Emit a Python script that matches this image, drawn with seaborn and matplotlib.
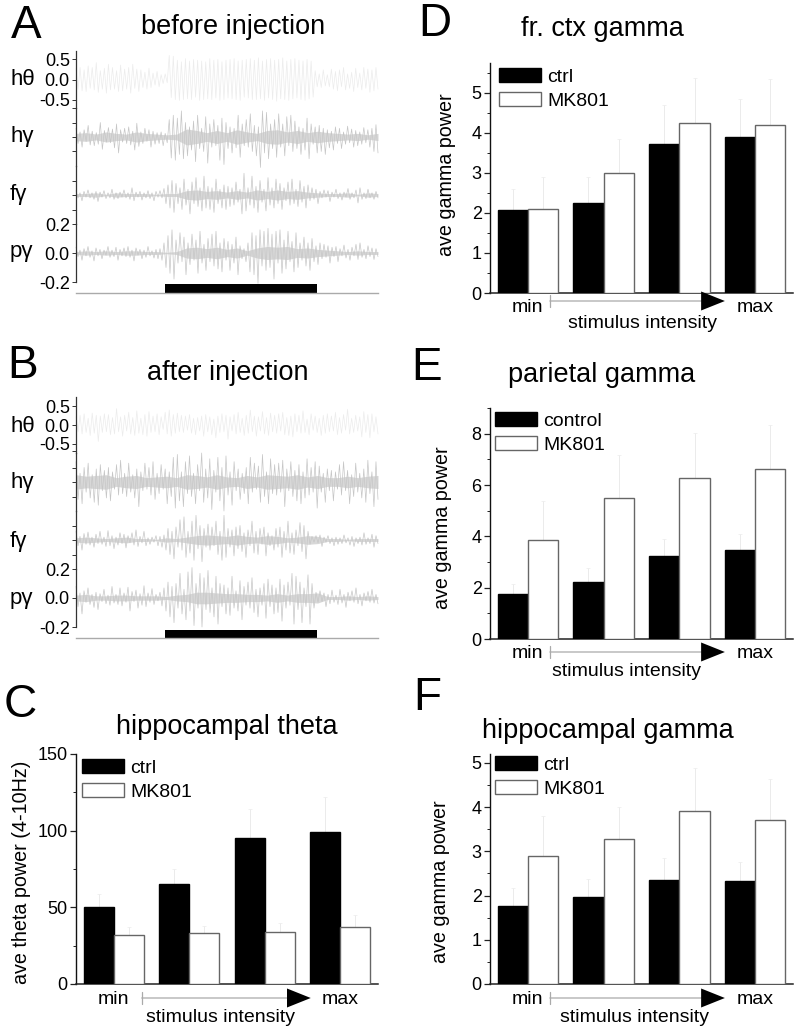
import numpy as np
import pandas as pd
import matplotlib
matplotlib.use("Agg")
import matplotlib.pyplot as plt
import seaborn as sns
from matplotlib.ticker import MultipleLocator

sns.set_theme(style="ticks")
plt.rcParams['font.family'] = ['Liberation Sans', 'DejaVu Sans']
plt.rcParams['axes.unicode_minus'] = False

W, H = 800, 1035

# bar values
groups = ["1", "2", "3", "4"]
theta_ctrl = [50, 65.5, 95.5, 99]
theta_mk = [32, 33, 34, 37.5]
theta_ctrl_top = [59, 75, 114, 122]
theta_mk_top = [37, 38, 39.5, 45]
fr_ctrl = [2.06, 2.25, 3.72, 3.89]
fr_mk = [2.09, 3.0, 4.25, 4.19]
fr_ctrl_top = [2.6, 2.9, 4.7, 4.85]
fr_mk_top = [2.9, 3.85, 5.37, 5.35]
par_ctrl = [1.77, 2.23, 3.22, 3.47]
par_mk = [3.85, 5.5, 6.28, 6.62]
par_ctrl_top = [2.13, 2.75, 3.9, 4.1]
par_mk_top = [5.38, 7.15, 8.03, 8.33]
hip_ctrl = [1.76, 1.97, 2.36, 2.34]
hip_mk = [2.9, 3.27, 3.91, 3.71]
hip_ctrl_top = [2.17, 2.38, 2.85, 2.75]
hip_mk_top = [3.8, 4.0, 4.88, 4.63]

# traces read off the picture as peaks and troughs
# theta traces are in 0.01 units, gamma traces in 0.005 units
a_theta = [28,-25,30,-28,24,-30,34,-22,30,-26,42,-32,22,-24,28,-34,38,-26,30,-24,22,-30,36,-28,26,
           -24,30,-34,38,-22,26,-30,24,-20,18,-24,28,-20,16,-14,20,-18,12,-10,14,-8,60,-45,58,-50,
           48,-52,44,-50,52,-48,46,-50,50,-44,48,-52,46,-50,44,-48,52,-50,48,-46,50,-52,44,-50,48,
           -46,50,-48,52,-50,46,-52,48,-44,50,-46,52,-50,48,-50,54,-48,46,-52,50,-46,52,-50,48,-54,
           50,-48,54,-50,46,-52,50,-48,52,-46,48,-50,46,-52,50,-48,46,-44,22,-18,14,-20,24,-16,12,
           -18,26,-24,20,-28,24,-18,30,-26,14,-22,18,-30,28,-20,16,-26,30,-22,26,-32,24,-28,30,-24]
a_hgam = [12,-9,7,-14,10,-6,16,-11,8,-12,6,-10,20,-17,9,-7,13,-8,11,-15,18,-22,10,-7,12,
          -9,14,-11,8,-18,19,-13,7,-9,12,-6,10,-14,8,-10,6,-9,7,-12,5,-8,24,-29,30,-32,
          26,-24,36,-30,20,-26,14,-18,22,-34,30,-16,12,-20,28,-36,18,-14,24,-12,16,-32,26,-38,
          20,-16,14,-22,12,-15,30,-28,18,-12,24,-14,32,-20,16,-26,14,-42,36,-22,34,-30,18,-16,24,
          -28,32,-14,18,-26,28,-12,30,-20,22,-16,14,-24,12,-18,26,-30,18,-10,14,-22,16,-20,12,-24,
          10,-15,8,-18,14,-9,12,-16,7,-10,15,-8,11,-14,9,-12,7,-10,13,-8,10,-14,12,-20,17,-22]
a_fgam = [6,-4,3,-8,5,-3,7,-4,3,-6,5,-9,4,-3,6,-5,3,-4,8,-6,3,-5,4,-3,7,
          -4,3,-6,10,-8,4,-3,5,-7,3,-4,6,-5,3,-8,5,-3,6,-4,9,-12,14,-18,20,-24,
          16,-12,10,-20,22,-14,8,-26,18,-12,24,-16,10,-22,26,-18,12,-20,10,-24,22,-12,8,-18,14,
          -20,12,-16,10,-14,18,-10,8,-26,30,-22,10,-14,26,-18,12,-24,20,-10,8,-22,24,-14,10,-18,22,
          -12,16,-20,10,-8,18,-14,22,-12,8,-16,20,-10,12,-18,14,-8,10,-6,8,-12,5,-4,7,-3,
          6,-9,4,-3,8,-5,3,-7,4,-3,9,-6,3,-4,7,-11,10,-6,3,-5,8,-4,3,-6,5,-4]
a_pgam = [8,-5,4,-10,6,-4,9,-6,3,-11,7,-4,5,-8,4,-3,9,-6,4,-5,8,-10,5,-4,7,
          -5,9,-6,4,-11,7,-3,5,-8,4,-6,9,-4,3,-7,5,-8,6,-10,14,-20,24,-28,32,-36,
          18,-14,28,-12,22,-30,14,-16,26,-10,18,-28,30,-14,12,-24,20,-12,26,-18,30,-22,14,-26,20,
          -10,16,-24,12,-14,22,-30,10,-8,6,-12,14,-26,28,-30,24,-42,32,-18,30,-24,34,-20,26,-36,30,
          -14,32,-28,18,-22,30,-12,16,-26,28,-20,14,-10,22,-18,14,-24,20,-12,10,-16,14,-8,12,-6,
          10,-14,8,-5,9,-12,6,-4,11,-7,5,-10,8,-4,12,-9,14,-6,5,-8,10,-5,7,-9,6,-5]
b_theta = [22,-18,26,-24,30,-20,18,-28,32,-22,26,-44,24,-20,30,-18,28,-26,20,-24,44,-18,22,-30,26,
           -16,34,-24,20,-28,38,-22,18,-26,28,-30,36,-20,24,-18,30,-26,22,-12,34,-24,40,-30,28,-22,
           32,-18,26,-20,24,-14,28,-22,18,-26,20,-16,24,-30,28,-18,22,-26,16,-34,24,-20,30,-18,26,
           -38,22,-16,28,-24,34,-20,18,-28,26,-22,40,-18,24,-30,22,-16,36,-24,20,-28,32,-18,26,-22,
           30,-16,34,-26,20,-28,24,-32,30,-18,26,-22,38,-20,16,-26,30,-14,24,-20,18,-28,26,-22,30,
           -18,24,-16,34,-26,20,-22,28,-14,42,-24,18,-20,26,-16,22,-32,36,-20,28,-34,30,-18,22,-24]
b_hgam = [28,-24,12,-30,20,-14,26,-22,10,-28,18,-32,24,-12,16,-22,20,-26,14,-10,24,-18,30,-16,12,
          -20,26,-14,10,-22,18,-34,14,-12,26,-10,20,-18,28,-24,12,-16,24,-10,18,-30,14,-20,34,-36,
          38,-26,14,-34,28,-16,36,-20,12,-30,24,-12,40,-28,18,-22,32,-38,16,-14,34,-26,20,-40,36,
          -18,14,-32,28,-12,18,-24,12,-16,20,-30,34,-14,26,-10,22,-28,38,-20,14,-30,32,-16,24,-18,
          26,-14,30,-34,18,-12,28,-20,16,-26,24,-30,14,-22,32,-18,20,-14,28,-36,22,-14,12,-28,18,
          -12,16,-26,14,-10,24,-18,28,-12,16,-30,10,-20,26,-14,12,-22,18,-28,30,-16,14,-34,28,-24]
b_fgam = [12,-8,5,-14,9,-6,11,-7,4,-10,8,-5,12,-6,4,-9,13,-8,6,-12,4,-7,10,-5,8,
          -11,6,-4,10,-7,14,-9,5,-4,12,-8,3,-6,4,-3,6,-8,5,-10,7,-14,16,-20,12,-26,
          18,-10,28,-14,32,-24,12,-18,26,-28,34,-12,20,-30,16,-10,22,-14,18,-8,26,-20,12,-28,34,
          -24,16,-10,14,-22,18,-12,20,-16,10,-24,14,-8,26,-18,12,-20,16,-6,18,-22,10,-8,6,-14,16,
          -10,18,-24,12,-14,26,-18,10,-20,14,-8,24,-16,20,-26,12,-6,5,-3,6,-4,7,-9,4,-3,
          6,-5,3,-8,4,-6,3,-5,7,-4,3,-7,5,-9,3,-5,4,-7,10,-6,3,-5,8,-10,6,-5]
b_pgam = [16,-12,7,-22,10,-6,14,-9,5,-13,8,-16,6,-5,12,-8,4,-10,16,-7,5,-9,14,-11,7,
          -6,15,-18,9,-5,11,-14,6,-10,17,-12,7,-6,13,-9,5,-4,8,-11,14,-18,22,-26,16,-34,
          20,-14,34,-22,12,-30,36,-18,42,-38,20,-14,34,-40,28,-16,38,-20,14,-26,30,-36,20,-12,18,
          -22,14,-24,30,-14,10,-18,24,-30,16,-10,22,-14,28,-20,12,-26,14,-10,20,-28,26,-12,18,-22,
          14,-20,26,-32,18,-14,22,-10,34,-36,30,-16,22,-34,14,-12,32,-36,20,-14,8,-6,10,-5,7,-12,
          5,-8,11,-6,4,-9,12,-7,5,-13,8,-4,10,-6,14,-8,5,-11,7,-4,9,-6,12,-7,5,-8]

# half width of the solid core of each gamma band, same units
a_hgam_core = [5,6,4,7,5,4,7,5,4,3,4,11,9,6,9,6,10,7,5,9,10,7,9,6,8,6,5,4,5,3,5]
a_fgam_core = [2,2,3,1,3,2,2,2,1,2,2,6,7,5,6,4,6,4,7,5,7,5,6,4,3,2,2,3,1,3,2]
a_pgam_core = [2,3,2,3,2,3,3,2,2,1,2,7,8,6,8,5,7,3,7,9,8,9,6,7,5,4,3,2,3,2,2]
b_hgam_core = [10,8,9,10,6,8,9,6,7,8,6,10,9,7,10,7,6,9,7,10,9,8,10,7,9,6,6,8,6,8,9]
b_fgam_core = [3,4,3,2,3,4,2,2,1,3,2,4,6,7,6,5,7,5,4,6,5,3,4,6,5,2,2,1,2,2,2]
b_pgam_core = [4,5,3,3,4,4,3,3,3,2,4,5,8,8,7,6,6,5,5,4,6,4,6,6,7,2,2,3,2,3,2]

stim_on, stim_off = 8.84, 23.9

fig = plt.figure(figsize=(8, 10.35), dpi=100, facecolor="white")


def box(x0, y0, x1, y1):
    # pixel box (top-left origin) to figure fraction
    return [x0 / W, 1 - y1 / H, (x1 - x0) / W, (y1 - y0) / H]


def put(x, y, s, size=14, **kw):
    kw.setdefault("ha", "center")
    kw.setdefault("va", "center")
    fig.text(x / W, 1 - y / H, s, fontsize=size, color="black", **kw)


def trace_panel(x0, rows, traces, cores, bar_row):
    # rows: top, bottom pixel and half range of each stacked trace
    for i, (vals, (top, bot, half)) in enumerate(zip(traces, rows)):
        ax = fig.add_axes(box(x0, top, 378, bot))
        ax.patch.set_alpha(0)
        t = np.linspace(0, 30, len(vals))
        if i == 0:
            col, unit, lw = "#ececec", 100, 0.5
        else:
            col, unit, lw = "#c6c6c6", 200, 0.5
            core = np.array(cores[i - 1]) / unit
            ax.fill_between(np.linspace(0, 30, len(core)), -core, core, color="#d8d8d8", lw=0)
        sns.lineplot(x=t, y=np.array(vals) / unit, ax=ax, color=col, lw=lw,
                     estimator=None, errorbar=None)
        ax.lines[0].set_clip_on(False)
        ax.set_xlim(0, 30)
        ax.set_ylim(-half, half)
        sns.despine(ax=ax, bottom=True)
        ax.set_xticks([])
        ax.spines["left"].set_linewidth(0.9)
        ax.spines["left"].set_color("#333333")
        ax.tick_params(axis="y", direction="out", length=3, width=0.7, color="#333333",
                       labelsize=13, pad=1.5, labelcolor="black")
        if i == 0:
            ax.set_yticks([0.5, 0.0, -0.5, -0.7])
            ax.set_yticklabels(["0.5", "0.0", "-0.5", ""])
        elif i == 3:
            ax.set_yticks([0.2, 0.0, -0.2])
            ax.set_yticklabels(["0.2", "0.0", "-0.2"])
        else:
            ax.set_yticks([0.1, 0.0, -0.1])
            ax.set_yticklabels([])
    # stimulus bar with grey time line
    ax = fig.add_axes(box(x0, bar_row[0], 378, bar_row[1]))
    ax.patch.set_alpha(0)
    ax.axvspan(stim_on, stim_off, color="black", lw=0)
    ax.set_xlim(0, 30)
    ax.set_xticks([])
    ax.set_yticks([])
    sns.despine(ax=ax, left=True)
    ax.spines["bottom"].set_color("#aaaaaa")
    ax.spines["bottom"].set_linewidth(1.0)


def bar_panel(rect, ctrl, mk, ctrl_top, mk_top, ylim, major, minor, ylabel, lab_x, lab_y,
              ctrl_name, leg_xy, arrow_gap, arrow_start):
    x0, y0, x1, y1 = rect
    ax = fig.add_axes(box(x0, y0, x1, y1))
    ax.patch.set_alpha(0)
    df = pd.DataFrame({
        "group": groups * 2,
        "power": ctrl + mk,
        "cond": [ctrl_name] * 4 + ["MK801"] * 4,
    })
    sns.barplot(data=df, x="group", y="power", hue="cond", ax=ax, errorbar=None,
                palette={ctrl_name: "black", "MK801": "white"}, saturation=1, width=0.8,
                legend=True, zorder=3)
    for cont, tops, edge in zip(ax.containers, [ctrl_top, mk_top], ["black", "#666666"]):
        for p, top in zip(cont.patches, tops):
            p.set_edgecolor(edge)
            p.set_linewidth(1.0)
            xc = p.get_x() + p.get_width() / 2
            h = p.get_height()
            ax.errorbar(xc, h, yerr=[[0], [top - h]], color="#ebebeb", lw=0.7,
                        capsize=1.2, capthick=0.5, zorder=2)
    ax.set_xlim(-0.5, 3.5)
    ax.set_ylim(*ylim)
    ax.set_xticks([])
    ax.set_xlabel("")
    ax.set_ylabel("")
    ax.yaxis.set_major_locator(MultipleLocator(major))
    ax.yaxis.set_minor_locator(MultipleLocator(minor))
    ax.tick_params(axis="y", which="major", direction="out", length=4.5, width=0.9,
                   color="#222222", labelsize=13, pad=1.5, labelcolor="black")
    ax.tick_params(axis="y", which="minor", direction="out", length=2.5, width=0.7,
                   color="#222222")
    sns.despine(ax=ax)
    ax.spines["left"].set_color("#111111")
    ax.spines["bottom"].set_color("#222222")
    ax.spines["left"].set_linewidth(1.0)
    ax.spines["bottom"].set_linewidth(1.1)

    handles, labels = ax.get_legend_handles_labels()
    handles[0].set_edgecolor("black")
    handles[1].set_edgecolor("#666666")
    lx = (leg_xy[0] - x0) / (x1 - x0)
    ly = (y1 - leg_xy[1]) / (y1 - y0)
    ax.legend(handles, labels, loc="upper left", bbox_to_anchor=(lx, ly), frameon=False,
              fontsize=14, handlelength=2.16, handleheight=0.77, handletextpad=0.33,
              labelspacing=0.29, borderpad=0, borderaxespad=0, labelcolor="black")
    put(lab_x, lab_y, ylabel, size=14.2, rotation=90)

    # min -> max arrow under the bars
    gx = x0 + (x1 - x0) / 8
    step = (x1 - x0) / 4
    ya = y1 + arrow_gap
    put(gx, y1 + 15, "min")
    put(gx + 3 * step, y1 + 15, "max")
    tr = fig.transFigure
    ax.annotate("", xy=((gx + 181) / W, 1 - ya / H), xytext=((gx + arrow_start) / W, 1 - ya / H),
                xycoords=tr, textcoords=tr,
                arrowprops=dict(arrowstyle="|-|,widthA=0.35,widthB=0", color="#aaaaaa", lw=0.9,
                                shrinkA=0, shrinkB=0))
    ax.annotate("", xy=((gx + 197) / W, 1 - ya / H), xytext=((gx + 179) / W, 1 - ya / H),
                xycoords=tr, textcoords=tr,
                arrowprops=dict(arrowstyle="-|>,head_length=0.95,head_width=0.38", color="black",
                                lw=0, shrinkA=0, shrinkB=0, mutation_scale=18))
    return ax


trace_panel(76, [(51, 108, 0.71), (108, 166, 0.2), (166, 224, 0.2), (224, 282, 0.2)],
            [a_theta, a_hgam, a_fgam, a_pgam], [a_hgam_core, a_fgam_core, a_pgam_core], (284, 293))
trace_panel(76, [(397, 453, 0.75), (453, 511, 0.2), (511, 569, 0.2), (569, 627, 0.2)],
            [b_theta, b_hgam, b_fgam, b_pgam], [b_hgam_core, b_fgam_core, b_pgam_core], (630, 638))

bar_panel((76, 754, 378, 984), theta_ctrl, theta_mk, theta_ctrl_top, theta_mk_top, (0, 150),
          50, 25, "ave theta power (4-10Hz)", 22, 872, "ctrl", (82, 759), 14, 28)
bar_panel((490, 63, 793, 293), fr_ctrl, fr_mk, fr_ctrl_top, fr_mk_top, (0, 5.74),
          1, 0.5, "ave gamma power", 446, 175, "ctrl", (499, 68), 8, 22)
bar_panel((490, 408, 793, 639), par_ctrl, par_mk, par_ctrl_top, par_mk_top, (0, 9.0),
          2, 1, "ave gamma power", 443, 528, "control", (495, 412), 13, 22)
bar_panel((490, 754, 793, 984), hip_ctrl, hip_mk, hip_ctrl_top, hip_mk_top, (0, 5.2),
          1, 0.5, "ave gamma power", 440, 882, "ctrl", (495, 756), 14, 22)

put(220, 1018, "stimulus intensity")
put(642, 323, "stimulus intensity")
put(627, 672, "stimulus intensity")
put(634, 1017, "stimulus intensity")

# titles
put(233, 27, "before injection", size=19.5)
put(228, 373, "after injection", size=19.5)
put(227, 727, "hippocampal theta", size=19.5)
put(602, 29, "fr. ctx gamma", size=19.5)
put(602, 375, "parietal gamma", size=19.5)
put(608, 731, "hippocampal gamma", size=19.5)

# panel letters
for s, x, y in [("A", 26, 26), ("B", 23, 366), ("C", 20, 705),
                ("D", 435, 24), ("E", 427, 368), ("F", 427, 698)]:
    put(x, y, s, size=33)

# trace names
for s, y in [("hθ", 85), ("hγ", 142), ("fγ", 200), ("pγ", 257),
             ("hθ", 432), ("hγ", 488), ("fγ", 547), ("pγ", 604)]:
    put(10, y, s, size=16, ha="left", va="baseline")

plt.savefig("out.png", dpi=100)
plt.close()
